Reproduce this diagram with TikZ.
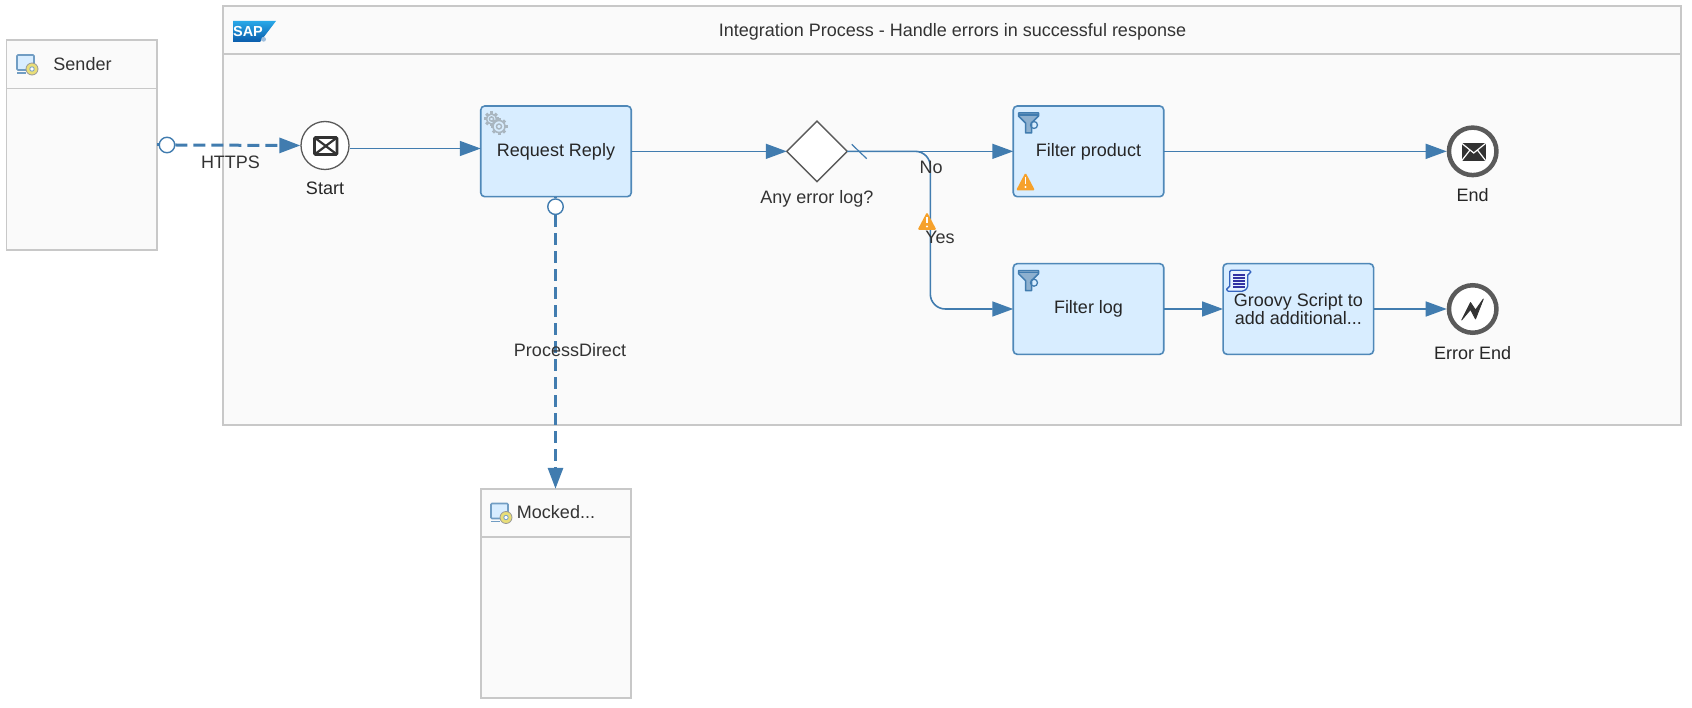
\documentclass[tikz,border=0pt]{standalone}
\usepackage{fontspec}
\setmainfont{Liberation Sans}
\usetikzlibrary{arrows.meta,shapes.geometric}
\definecolor{poolline}{HTML}{C8C8C8}
\definecolor{poolfill}{HTML}{FAFAFA}
\definecolor{flowblue}{HTML}{417CAF}
\definecolor{taskline}{HTML}{4F88B8}
\definecolor{taskfill}{HTML}{D8EDFF}
\definecolor{labelgrey}{HTML}{333333}
\definecolor{eventgrey}{HTML}{5A5A5A}
\definecolor{warnorange}{HTML}{F6A12B}
\definecolor{gearfill}{HTML}{A9B6C0}
\definecolor{saptop}{HTML}{29A8E8}
\definecolor{sapbottom}{HTML}{0B5CAB}
\definecolor{discyellow}{HTML}{E9DE78}

\begin{document}
\begin{tikzpicture}[x=1pt,y=1pt]
\tikzset{
  every node/.style={inner sep=0pt,font=\fontsize{18}{18}\selectfont},
  pool/.style={draw=poolline,fill=poolfill,line width=1.8pt,outer sep=0pt},
  poolrule/.style={draw=poolline,line width=1.8pt},
  tasknode/.style={draw=taskline,fill=taskfill,line width=1.6pt,rounded corners=4pt,minimum width=150.5pt,minimum height=90.7pt,outer sep=0pt,text=black!85,align=center},
  startevent/.style={circle,draw=eventgrey,fill=white,line width=1.3pt,minimum size=48pt},
  endevent/.style={circle,draw=eventgrey,fill=white,line width=4.5pt,minimum size=47.5pt},
  gatewaynode/.style={diamond,aspect=1,draw=eventgrey,fill=white,line width=1.3pt,minimum size=60.5pt,outer sep=0pt},
  portnode/.style={circle,draw=flowblue,fill=white,line width=1.4pt,minimum size=15.5pt},
  lbl/.style={text=labelgrey,text height=12.5pt,text depth=0pt},
  flow/.style={draw=flowblue,line width=1.6pt,-{Triangle[length=21pt,width=15pt]}},
  msgflow/.style={draw=flowblue,line width=3pt,dash pattern=on 12pt off 6pt,-{Triangle[length=21pt,width=15pt]}},
  stub/.style={draw=flowblue,line width=3pt},
  pics/funnelicon/.style={code={
    \draw [draw=flowblue,fill=flowblue!60,line width=1.5pt,line join=round] (-10,10) -- (10,10) -- (10,7) -- (3,0) -- (3,-10) -- (-3,-10) -- (-3,0) -- (-10,7) -- cycle;
    \draw [draw=flowblue,line width=1.5pt] (-10,8) -- (10,8);
    \draw [draw=flowblue,line width=1.3pt] (5.5,-2) circle (3.5);
  }},
  pics/pcicon/.style={code={
    \draw [draw=flowblue!75,fill=taskfill,line width=1.6pt,rounded corners=1pt] (-10,10) rectangle (7,-5);
    \draw [draw=flowblue!75,line width=1.6pt] (-10,-8) -- (-1,-8);
    \draw [draw=black!40,fill=discyellow,line width=0.8pt] (5,-4) circle (6);
    \draw [draw=flowblue!70,fill=white,line width=0.9pt] (5,-4) circle (2.2);
  }},
  pics/gearicon/.style={code={
    \foreach \ang in {0,45,...,315}
      \draw [draw=gearfill,line width=3pt] (\ang:#1) -- (\ang:#1+2.5);
    \draw [draw=gearfill,fill=taskfill,line width=1.6pt] (0,0) circle (#1);
    \draw [draw=gearfill,line width=1.4pt] (0,0) circle (#1*0.42);
  }},
  pics/warnicon/.style={code={
    \fill [warnorange,rounded corners=1.5pt] (0,9.5) -- (9.5,-8.5) -- (-9.5,-8.5) -- cycle;
    \draw [white,line width=1.8pt] (0,4.5) -- (0,-2);
    \fill [white] (0,-5) circle (1.1);
  }},
  pics/scrollicon/.style={code={
    \draw [draw=flowblue!80!blue,fill=taskfill!60!white,line width=1.3pt,rounded corners=1.5pt] (-9,10.5) -- (12,10.5) -- (12,7) -- (9,7) -- (9,-7) -- (5,-10.5) -- (-12,-10.5) -- (-12,-7) -- (-9,-7) -- cycle;
    \foreach \yy in {6,3,0,-3,-6}
      \draw [draw=blue!55!black!80,line width=1.7pt] (-5.5,\yy) -- (6,\yy);
  }},
}
\useasboundingbox (0,0) rectangle (1692,-708);
% pools
\node [pool,minimum width=150.5pt,minimum height=210pt] (sender) at (81.75,-145) {};
\node [pool,minimum width=1458pt,minimum height=419pt] (process) at (952,-215.5) {};
\node [pool,minimum width=150.5pt,minimum height=209pt] (mocked) at (556,-593.3) {};
\draw [poolrule] (6.5,-88.5) -- (157,-88.5);
\draw [poolrule] (223,-54) -- (1681,-54);
\draw [poolrule] (480.75,-537) -- (631.25,-537);
\node [lbl] (senderlabel) at (82.5,-64.5) {Sender};
\node [lbl] (mockedlabel) at (556,-512.5) {Mocked...};
\node [lbl] (processlabel) at (952.5,-30) {Integration Process - Handle errors in successful response};
\pic at (27,-65) {pcicon};
\pic at (501,-513.5) {pcicon};
% SAP logo
\shade [top color=saptop,bottom color=sapbottom] (233,-21) -- (276,-21) -- (260,-42) -- (233,-42) -- cycle;
\node [text=white,font=\bfseries\fontsize{14.5}{14.5}\selectfont] (saplogo) at (248,-31.7) {SAP};
\fill [sapbottom!40!white] (263.6,-39.3) circle (2.4);
% tasks
\node [startevent] (start) at (325,-145.5) {};
\node [tasknode] (reqreply) at (556,-151.35) {Request Reply};
\node [gatewaynode] (gateway) at (817,-151.35) {};
\node [tasknode] (filterprod) at (1088.5,-151.35) {Filter product};
\node [tasknode] (filterlog) at (1088.5,-309) {Filter log};
\node [tasknode] (groovy) at (1298.3,-309) {Groovy Script to\\add additional...};
\node [endevent] (msgend) at (1472.7,-151.35) {};
\node [endevent] (errend) at (1472.7,-309) {};
\node [portnode] (senderport) at (167,-145) {};
\node [portnode] (replyport) at (555.5,-206.7) {};
\coordinate (branchx) at (930.3,-230);
\coordinate (tickup) at (851.7,-144.3);
\coordinate (tickdown) at (866.7,-158.7);
% icons
\pic at (1028.5,-123) {funnelicon};
\pic at (1028.5,-280.7) {funnelicon};
\pic at (491.5,-119) {gearicon=5};
\pic at (499,-126.5) {gearicon=6};
\pic at (1025.5,-182) {warnicon};
\pic at (1238.7,-280.7) {scrollicon};
\draw [draw=labelgrey,fill=white,line width=2.6pt,rounded corners=1pt] (314.5,-137.5) rectangle (337,-154.5);
\draw [draw=labelgrey,line width=2.2pt] (314.5,-137.5) -- (337,-154.5) (337,-137.5) -- (314.5,-154.5);
\fill [labelgrey] (1461.7,-143.3) rectangle (1485.7,-160.7);
\draw [white,line width=1.2pt] (1461.7,-143.3) -- (1473.7,-153) -- (1485.7,-143.3) (1461.7,-160.7) -- (1470,-150) (1485.7,-160.7) -- (1477.4,-150);
\draw [labelgrey,fill=labelgrey,line width=0.8pt,line join=round] (1461.7,-320) -- (1470.5,-302.5) -- (1475.5,-310) -- (1483.3,-299) -- (1475.5,-319) -- (1470.5,-309.5) -- cycle;
% connectors
\draw [stub] (sender.east) -- (senderport);
\draw [msgflow] (senderport.east) -- (start.west);
\draw [flow] ([yshift=-3pt]start.east) -- ([yshift=2.85pt]reqreply.west);
\draw [flow] (reqreply.east) -- (gateway.west);
\draw [stub] ([xshift=-0.5pt]reqreply.south) -- (replyport);
\draw [msgflow] (replyport.south) -- ([xshift=-0.5pt]mocked.north);
\draw [flow] (gateway.east) -- (filterprod.west);
\draw [flow,rounded corners=15pt] (gateway.east) -| (branchx) |- (filterlog.west);
\draw [draw=flowblue,line width=1.2pt] (tickup) -- (tickdown);
\draw [flow] (filterprod.east) -- (msgend.west);
\draw [flow] (filterlog.east) -- (groovy.west);
\draw [flow] (groovy.east) -- (errend.west);
\pic at (927,-221.5) {warnicon};
% labels
\node [lbl] (httpslabel) at (230.5,-162) {HTTPS};
\node [lbl] (directlabel) at (570,-350) {ProcessDirect};
\node [lbl] (nolabel) at (931,-167.7) {No};
\node [lbl] (yeslabel) at (940,-237.7) {Yes};
\node [lbl,text=black!85] (startlabel) at (325,-188.7) {Start};
\node [lbl] (gatewaylabel) at (817,-197) {Any error log?};
\node [lbl,text=black!85] (endlabel) at (1472.7,-195) {End};
\node [lbl,text=black!85] (errendlabel) at (1472.7,-353) {Error End};
\end{tikzpicture}
\end{document}
